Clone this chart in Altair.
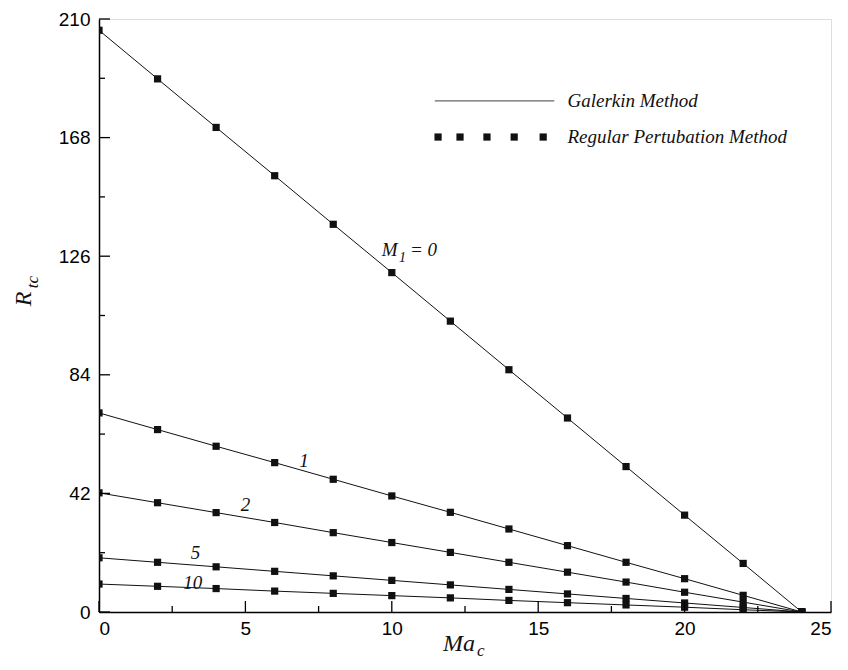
import altair as alt
import pandas as pd

# ---- data ----
ma_c = [0, 2, 4, 6, 8, 10, 12, 14, 16, 18, 20, 22, 24]
r_m0 = [206.0, 188.8, 171.6, 154.5, 137.3, 120.2, 103.0, 85.8, 68.7, 51.5, 34.3, 17.2, 0.0]
r_m1 = [70.5, 64.6, 58.7, 52.9, 47.0, 41.1, 35.3, 29.4, 23.5, 17.6, 11.8, 5.9, 0.0]
r_m2 = [42.2, 38.7, 35.2, 31.7, 28.1, 24.6, 21.1, 17.6, 14.1, 10.6, 7.0, 3.5, 0.0]
r_m5 = [19.2, 17.6, 16.0, 14.4, 12.8, 11.2, 9.6, 8.0, 6.4, 4.8, 3.2, 1.6, 0.0]
r_m10 = [9.9, 9.1, 8.3, 7.4, 6.6, 5.8, 5.0, 4.1, 3.3, 2.5, 1.7, 0.8, 0.0]
series_names = ["0", "1", "2", "5", "10"]

x_ticks = [0, 5, 10, 15, 20, 25]
x_minor = [2.5, 7.5, 12.5, 17.5, 22.5]
y_ticks = [0, 42, 84, 126, 168, 210]
y_minor = [21, 63, 105, 147, 189]

curve_labels = ["1", "2", "5", "10"]
curve_label_x = [7.0, 5.0, 3.3, 3.2]
curve_label_y = [53.6, 38.0, 20.9, 10.3]

legend_line_x = [11.47, 15.55]
legend_line_y = [181.0, 181.0]
legend_sq_x = [11.58, 12.33, 13.25, 14.18, 15.17]
legend_sq_y = [168.2] * 5
legend_text = ["Galerkin Method", "Regular Pertubation Method"]
legend_text_x = [16.0, 16.0]
legend_text_y = [181.0, 168.2]

# ---- build tables ----
rows = []
for name, vals in zip(series_names, [r_m0, r_m1, r_m2, r_m5, r_m10]):
    for xv, yv in zip(ma_c, vals):
        rows.append({"M1": name, "Ma": xv, "R": yv})
df = pd.DataFrame(rows)

W, H = 732, 593
xs = alt.Scale(domain=[0, 25], nice=False, zero=False)
ys = alt.Scale(domain=[0, 210], nice=False, zero=False)

X = alt.X("Ma:Q", scale=xs, axis=alt.Axis(values=x_ticks, title=None, ticks=False, grid=False,
                                           labelFontSize=19, labelFont="Liberation Sans",
                                           labelColor="black", labelPadding=7,
                                           domainColor="black", domainWidth=1.5))
Y = alt.Y("R:Q", scale=ys, axis=alt.Axis(values=y_ticks, title=None, ticks=False, grid=False,
                                          labelFontSize=19, labelFont="Liberation Sans",
                                          labelColor="black", labelPadding=9,
                                          domainColor="black", domainWidth=1.5))

base = alt.Chart(df)
lines = base.mark_line(color="#111111", strokeWidth=1, clip=True).encode(x=X, y=Y, detail="M1:N")
points = base.mark_point(shape="square", filled=True, color="#111111", size=52, opacity=1,
                         clip=True).encode(x=alt.X("Ma:Q", scale=xs), y=alt.Y("R:Q", scale=ys))

# inward ticks
yt = pd.DataFrame({"v": y_ticks})
ytm = pd.DataFrame({"v": y_minor})
xt = pd.DataFrame({"v": x_ticks})
xtm = pd.DataFrame({"v": x_minor})
ytick = alt.Chart(yt).mark_rule(color="black", strokeWidth=1.3).encode(
    y=alt.Y("v:Q", scale=ys), x=alt.value(0), x2=alt.value(11))
ytick_m = alt.Chart(ytm).mark_rule(color="black", strokeWidth=1.3).encode(
    y=alt.Y("v:Q", scale=ys), x=alt.value(0), x2=alt.value(6))
xtick = alt.Chart(xt).mark_rule(color="black", strokeWidth=1.3).encode(
    x=alt.X("v:Q", scale=xs), y=alt.value(H), y2=alt.value(H - 11))
xtick_m = alt.Chart(xtm).mark_rule(color="black", strokeWidth=1.3).encode(
    x=alt.X("v:Q", scale=xs), y=alt.value(H), y2=alt.value(H - 6))

# curve labels
cl = pd.DataFrame({"t": curve_labels, "x": curve_label_x, "y": curve_label_y})
clabels = alt.Chart(cl).mark_text(font="Liberation Serif", fontStyle="italic", fontSize=19,
                                  color="#111111", baseline="middle", align="center").encode(
    x=alt.X("x:Q", scale=xs), y=alt.Y("y:Q", scale=ys), text="t:N")

# M1 = 0 label pieces
m_df = pd.DataFrame({"x": [9.66], "y": [126.0], "t": ["M"]})
sub_df = pd.DataFrame({"x": [10.25], "y": [123.8], "t": ["1"]})
eq_df = pd.DataFrame({"x": [10.62], "y": [126.0], "t": ["= 0"]})
m_lab = alt.Chart(m_df).mark_text(font="Liberation Serif", fontStyle="italic", fontSize=19,
                                  color="#111111", align="left", baseline="alphabetic").encode(
    x=alt.X("x:Q", scale=xs), y=alt.Y("y:Q", scale=ys), text="t:N")
sub_lab = alt.Chart(sub_df).mark_text(font="Liberation Serif", fontStyle="italic", fontSize=14,
                                      color="#111111", align="left", baseline="alphabetic").encode(
    x=alt.X("x:Q", scale=xs), y=alt.Y("y:Q", scale=ys), text="t:N")
eq_lab = alt.Chart(eq_df).mark_text(font="Liberation Serif", fontStyle="italic", fontSize=19,
                                    color="#111111", align="left", baseline="alphabetic").encode(
    x=alt.X("x:Q", scale=xs), y=alt.Y("y:Q", scale=ys), text="t:N")

# legend
lg_line = alt.Chart(pd.DataFrame({"x": legend_line_x, "y": legend_line_y})).mark_line(
    color="#666666", strokeWidth=1.2).encode(x=alt.X("x:Q", scale=xs), y=alt.Y("y:Q", scale=ys))
lg_sq = alt.Chart(pd.DataFrame({"x": legend_sq_x, "y": legend_sq_y})).mark_point(
    shape="square", filled=True, color="#111111", size=52, opacity=1).encode(
    x=alt.X("x:Q", scale=xs), y=alt.Y("y:Q", scale=ys))
lg_txt = alt.Chart(pd.DataFrame({"t": legend_text, "x": legend_text_x, "y": legend_text_y})).mark_text(
    font="Liberation Serif", fontStyle="italic", fontSize=19, color="#111111",
    align="left", baseline="middle").encode(
    x=alt.X("x:Q", scale=xs), y=alt.Y("y:Q", scale=ys), text="t:N")

# axis titles (with subscripts)
title_df = pd.DataFrame({"d": [0]})
r_title = alt.Chart(title_df).mark_text(font="Liberation Serif", fontStyle="italic", fontSize=24,
                                        color="#111111", angle=270, align="center",
                                        baseline="alphabetic").encode(
    x=alt.value(-68), y=alt.value(280), text=alt.value("R"))
tc_title = alt.Chart(title_df).mark_text(font="Liberation Serif", fontStyle="italic", fontSize=17,
                                         color="#111111", angle=270, align="center",
                                         baseline="alphabetic").encode(
    x=alt.value(-61), y=alt.value(263), text=alt.value("tc"))
ma_title = alt.Chart(title_df).mark_text(font="Liberation Serif", fontStyle="italic", fontSize=24,
                                         color="#111111", align="left",
                                         baseline="alphabetic").encode(
    x=alt.value(344), y=alt.value(H + 39), text=alt.value("Ma"))
c_title = alt.Chart(title_df).mark_text(font="Liberation Serif", fontStyle="italic", fontSize=17,
                                        color="#111111", align="left",
                                        baseline="alphabetic").encode(
    x=alt.value(378), y=alt.value(H + 44), text=alt.value("c"))

chart = alt.layer(
    lines, points, ytick, ytick_m, xtick, xtick_m, clabels, m_lab, sub_lab, eq_lab,
    lg_line, lg_sq, lg_txt, r_title, tc_title, ma_title, c_title
).properties(
    width=W, height=H,
    autosize=alt.AutoSizeParams(type="none"),
    padding={"left": 91, "top": 11, "right": 9, "bottom": 48},
).configure_view(stroke="black", strokeWidth=1.5).configure(background="white")

chart.save("out.html", embed_options={"renderer": "svg", "actions": False})
